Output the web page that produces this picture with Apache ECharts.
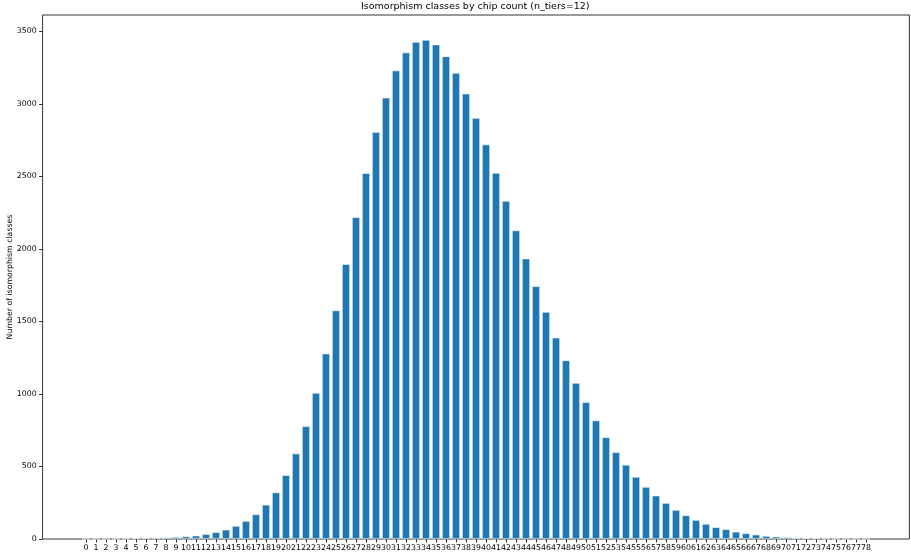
<!DOCTYPE html>
<html>
<head>
<meta charset="utf-8">
<script src="https://cdn.jsdelivr.net/npm/echarts@6/dist/echarts.min.js"></script>
<style>
html,body{margin:0;padding:0;background:#fff;}
#chart{width:911px;height:554px;}
</style>
</head>
<body>
<div id="chart"></div>
<script>
// chip counts (categories)
var chipCounts = [];
for (var i = 0; i <= 78; i++) chipCounts.push(i);
// number of isomorphism classes for each chip count
var classCounts = [
  0, 0, 0, 1, 2, 4, 7, 8, 10, 14,
  18, 23, 34, 47, 64, 90, 124, 170, 236, 321,
  440, 589, 777, 1007, 1278, 1575, 1895, 2218, 2522, 2805,
  3042, 3229, 3353, 3426, 3440, 3408, 3327, 3212, 3070, 2902,
  2719, 2524, 2330, 2127, 1933, 1742, 1565, 1388, 1231, 1076,
  943, 817, 701, 598, 511, 428, 359, 299, 248, 200,
  163, 131, 104, 81, 67, 50, 39, 30, 21, 16,
  12, 7, 5, 4, 2, 1, 1, 0, 0
];
var yTicks = [0, 500, 1000, 1500, 2000, 2500, 3000, 3500];
var titleText = 'Isomorphism classes by chip count (n_tiers=12)';
var yName = 'Number of isomorphism classes';

var FONT = 'DejaVu Sans';
var barData = chipCounts.map(function (c, k) { return [c, classCounts[k]]; });

var chart = echarts.init(document.getElementById('chart'), null, {renderer: 'canvas'});
chart.setOption({
  animation: false,
  backgroundColor: '#ffffff',
  title: {
    text: titleText,
    left: 361,
    top: 2,
    padding: 0,
    textStyle: {fontFamily: FONT, fontSize: 9.5, fontWeight: 'normal', color: '#000'}
  },
  grid: {
    left: 42.6, right: 1.6, top: 15, bottom: 15,
    show: true, borderColor: '#000', borderWidth: 0.8, backgroundColor: 'transparent',
    containLabel: false,
    outerBoundsMode: 'none'
  },
  xAxis: {
    type: 'value',
    min: -4.34,
    max: 82.34,
    splitLine: {show: false},
    axisLine: {show: false, onZero: false},
    axisTick: {show: true, inside: false, length: 3.5, lineStyle: {color: '#000', width: 0.8}, customValues: chipCounts},
    axisLabel: {
      show: true, customValues: chipCounts, margin: 5,
      fontFamily: FONT, fontSize: 7.8, color: '#000', hideOverlap: false,
      formatter: function (v) { return String(v); }
    }
  },
  yAxis: {
    type: 'value',
    min: 0,
    max: 3612,
    name: yName,
    nameLocation: 'middle',
    nameGap: 29,
    nameMoveOverlap: false,
    nameTextStyle: {fontFamily: FONT, fontSize: 7.8, color: '#000'},
    splitLine: {show: false},
    axisLine: {show: false, onZero: false},
    axisTick: {show: true, inside: false, length: 3.5, lineStyle: {color: '#000', width: 0.8}, customValues: yTicks},
    axisLabel: {
      show: true, customValues: yTicks, margin: 6,
      fontFamily: FONT, fontSize: 7.8, color: '#000',
      formatter: function (v) { return String(v); }
    }
  },
  series: [{
    type: 'bar',
    data: barData,
    barWidth: 8,
    itemStyle: {color: '#1f77b4', borderColor: '#ffffff', borderWidth: 0.6}
  }]
});
</script>
</body>
</html>
